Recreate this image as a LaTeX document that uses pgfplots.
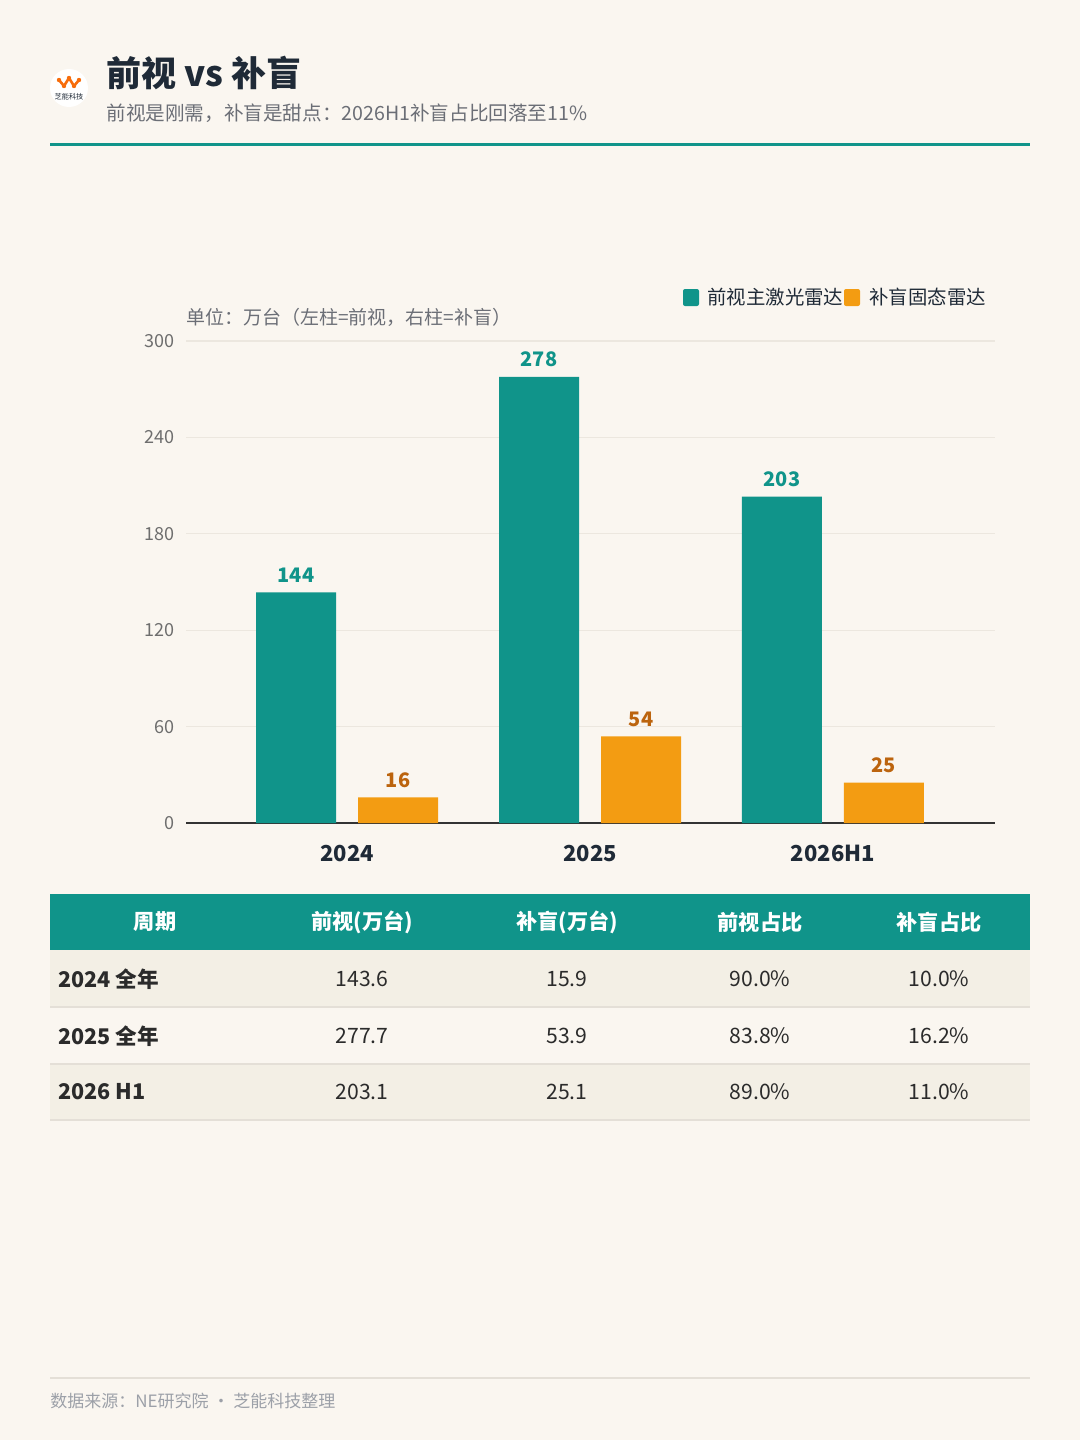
\documentclass[border=0pt]{standalone}
\usepackage{pgfplots}
\pgfplotsset{compat=1.18}
\usepackage{pgfplotstable}
\usepackage{fontspec}
\setmainfont{Noto Sans CJK SC}
\definecolor{bg}{HTML}{FAF6F0}
\definecolor{tealc}{HTML}{10948A}
\definecolor{orangec}{HTML}{F39C12}
\definecolor{orangetxt}{HTML}{BC640E}
\definecolor{titlec}{HTML}{1F2A37}
\definecolor{subc}{HTML}{6B6E76}
\definecolor{tickc}{HTML}{6E6E6E}
\definecolor{gridc}{HTML}{ECE7DF}
\definecolor{rowc}{HTML}{F3EFE5}
\definecolor{linec}{HTML}{E4DFD7}
\definecolor{footc}{HTML}{9CA0A8}
\definecolor{axisc}{HTML}{333333}
\definecolor{cellc}{HTML}{2B2B2B}
\newcommand{\fs}[1]{\fontsize{#1}{#1}\selectfont}

\pgfplotstableread{
x front blind
0 143.6 15.9
1 277.7 53.9
2 203.1 25.1
}\data

\begin{document}
\begin{tikzpicture}
\begin{scope}[x=0.5pt,y=-0.5pt,every node/.style={inner sep=0pt}]
\fill[bg] (0,0) rectangle (1080,1440);
% logo
\fill[white] (69,88) circle (19);
\draw[orangec!70!red, line width=1.3pt, line join=round] (59,80)--(64,86)--(69,78)--(74,86)--(79,80);
\foreach \p in {(59,80),(64,86),(69,78),(74,86),(79,80)} \fill[orangec!70!red] \p circle (2.2);
\node[font=\fs{3.6}, text=titlec] at (69,97) {芝能科技};
% title
\node[anchor=west, font=\bfseries\fs{17.5}, text=titlec] at (106,73) {前视 vs 补盲};
\node[anchor=west, font=\fs{9.8}, text=subc] at (106,113) {前视是刚需，补盲是甜点：2026H1补盲占比回落至11\%};
\draw[tealc, line width=1.5pt] (50,144)--(1030,144);
% unit label
\node[anchor=west, font=\fs{9.5}, text=subc] at (186,317) {单位：万台（左柱=前视，右柱=补盲）};
% legend
\fill[tealc, rounded corners=1pt] (683,289) rectangle (699,306);
\node[anchor=west, font=\fs{9.7}, text=titlec] at (707,297.5) {前视主激光雷达};
\fill[orangec, rounded corners=1pt] (844,289) rectangle (860,306);
\node[anchor=west, font=\fs{9.7}, text=titlec] at (869,297.5) {补盲固态雷达};
% table
\fill[tealc] (50,894) rectangle (1030,950);
\fill[rowc] (50,950) rectangle (1030,1007);
\fill[rowc] (50,1064) rectangle (1030,1120);
\foreach \yy in {1007,1064,1120} \draw[linec, line width=0.6pt] (50,\yy)--(1030,\yy);
\begin{scope}[every node/.append style={font=\bfseries\fs{10.6}, text=white}]
\node at (155,922) {周期};
\node at (362,922) {前视(万台)};
\node at (567,922) {补盲(万台)};
\node at (760,922) {前视占比};
\node at (939,922) {补盲占比};
\end{scope}
\begin{scope}[every node/.append style={font=\fs{10.6}, text=cellc}]
\node[anchor=west, font=\bfseries\fs{10.8}] at (58,979) {2024 全年};
\node at (362,979) {143.6};
\node at (567,979) {15.9};
\node at (760,979) {90.0\%};
\node at (939,979) {10.0\%};
\node[anchor=west, font=\bfseries\fs{10.8}] at (58,1036) {2025 全年};
\node at (362,1036) {277.7};
\node at (567,1036) {53.9};
\node at (760,1036) {83.8\%};
\node at (939,1036) {16.2\%};
\node[anchor=west, font=\bfseries\fs{10.8}] at (58,1092) {2026 H1};
\node at (362,1092) {203.1};
\node at (567,1092) {25.1};
\node at (760,1092) {89.0\%};
\node at (939,1092) {11.0\%};
\end{scope}
% footer
\draw[linec, line width=0.6pt] (50,1378)--(1030,1378);
\node[anchor=west, font=\fs{8.5}, text=footc] at (50,1401) {数据来源：NE研究院 · 芝能科技整理};
\end{scope}

\begin{axis}[
  at={(93pt,-411.5pt)}, anchor=south west,
  scale only axis, width=404.5pt, height=241pt,
  ymin=0, ymax=300, xmin=-0.663, xmax=2.667,
  ytick={0,60,...,300}, xtick={0,1,2}, xticklabels={2024,2025,2026H1},
  axis lines*=left,
  y axis line style={draw=none},
  x axis line style={draw=axisc, line width=1pt},
  major tick length=0pt,
  ymajorgrids, grid style={gridc, line width=0.6pt},
  /pgf/number format/assume math mode=true,
  yticklabel style={font=\fs{9}, text=tickc, xshift=-2pt},
  xticklabel style={font=\bfseries\fs{11}, text=titlec, yshift=-7.5pt},
  ybar, bar width=40pt,
  clip=false,
  nodes near coords={\pgfmathprintnumber[fixed,precision=0,assume math mode=true]{\pgfplotspointmeta}},
]
\addplot[fill=tealc, draw=none, bar shift=-25.5pt,
  nodes near coords style={font=\bfseries\fs{10}, text=tealc, yshift=1.5pt}]
  table[x=x,y=front]{\data};
\addplot[fill=orangec, draw=none, bar shift=25.5pt,
  nodes near coords style={font=\bfseries\fs{10}, text=orangetxt, yshift=1.5pt}]
  table[x=x,y=blind]{\data};
\end{axis}
\end{tikzpicture}
\end{document}
